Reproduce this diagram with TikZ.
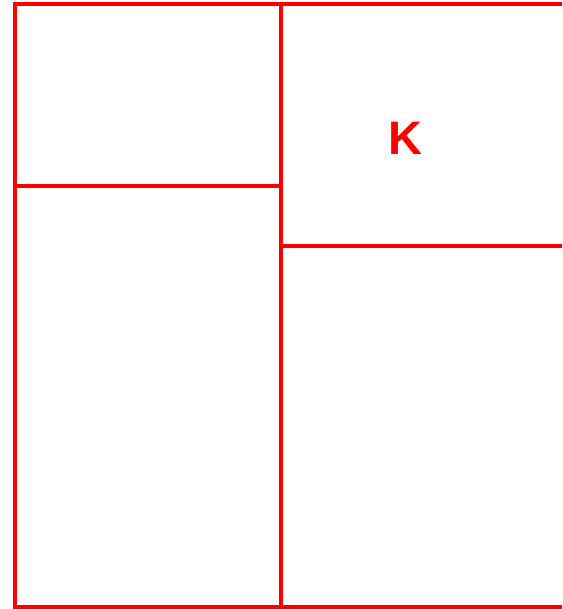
\documentclass[tikz,border=0pt]{standalone}
\usepackage{fontspec}
\setsansfont{Liberation Sans}
\usepackage{tikz}
\definecolor{planred}{RGB}{255,0,0}

\begin{document}
\begin{tikzpicture}[
        x=1pt, y=-1pt,
        wall/.style = {draw=planred, line width=3.5pt},
        roomlabel/.style = {text=planred, font=\sffamily\bfseries\fontsize{47}{47}\selectfont}
    ]

        % Frame
        \useasboundingbox (0,0) rectangle (562,609);
        \clip (0,0) rectangle (562,609);

        % Outer walls
        \draw [wall] (15,4) rectangle (570,607);

        % Inner walls
        \draw [wall] (281,4) -- (281,607);
        \draw [wall] (15,186) -- (281,186);
        \draw [wall] (281,246) -- (570,246);

        % Label
        \node (k) [roomlabel] at (405,138) {K};

    \end{tikzpicture}
\end{document}
